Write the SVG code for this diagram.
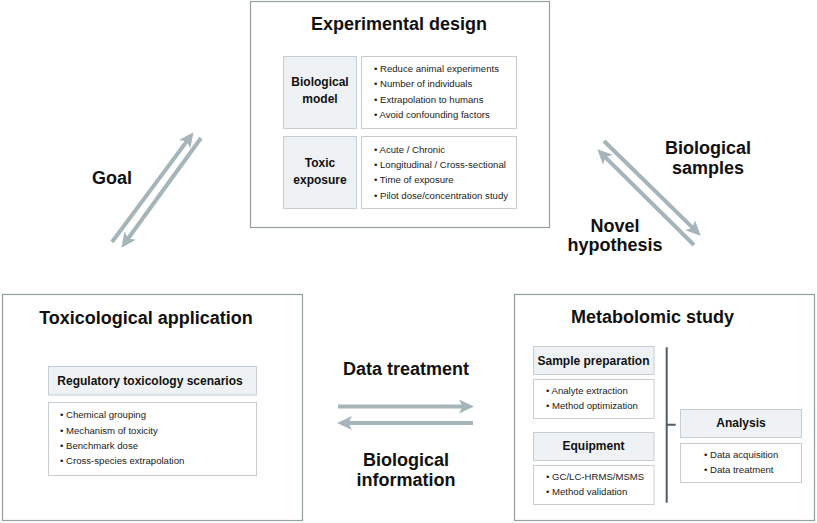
<svg xmlns="http://www.w3.org/2000/svg" width="817" height="523" viewBox="0 0 817 523">
<style>
.outer{fill:#fff;stroke:#959ea3;stroke-width:1.2}
.hdr{fill:#eef2f5;stroke:#c6ced3;stroke-width:1}
.lst{fill:#fff;stroke:#c6ced3;stroke-width:1}
.title{font-family:"Liberation Sans",Arial,sans-serif;font-weight:bold;font-size:18px;fill:#111}
.h{font-family:"Liberation Sans",Arial,sans-serif;font-weight:bold;font-size:12px;fill:#111;text-anchor:middle}
.b{font-family:"Liberation Sans",Arial,sans-serif;font-size:9.6px;fill:#222}
.lbl{font-family:"Liberation Sans",Arial,sans-serif;font-weight:bold;font-size:18px;fill:#111;text-anchor:middle}
.arr{stroke:#a5b5b9;stroke-width:4;fill:none;marker-end:url(#ah)}
</style>
<defs>
<marker id="ah" markerUnits="userSpaceOnUse" markerWidth="16" markerHeight="14" refX="6" refY="7" orient="auto">
<path d="M0,0 L15,7 L0,14 L3.5,7 Z" fill="#a5b5b9"/>
</marker>
</defs>
<rect width="817" height="523" fill="#fff"/>

<g id="experimental-design">
<rect class="outer" x="250.5" y="1.5" width="299" height="226"/>
<text class="title" x="399" y="30" text-anchor="middle">Experimental design</text>
<rect class="hdr" x="283.5" y="56.5" width="73" height="72"/>
<text class="h" x="320" y="86">Biological</text>
<text class="h" x="320" y="103">model</text>
<rect class="lst" x="361.5" y="56.5" width="155" height="72"/>
<text class="b" x="374" y="72">• Reduce animal experiments</text>
<text class="b" x="374" y="87.3">• Number of individuals</text>
<text class="b" x="374" y="102.6">• Extrapolation to humans</text>
<text class="b" x="374" y="118">• Avoid confounding factors</text>
<rect class="hdr" x="283.5" y="136.5" width="73" height="72"/>
<text class="h" x="320" y="167">Toxic</text>
<text class="h" x="320" y="183.5">exposure</text>
<rect class="lst" x="361.5" y="136.5" width="155" height="72"/>
<text class="b" x="374" y="152.7">• Acute / Chronic</text>
<text class="b" x="374" y="168">• Longitudinal / Cross-sectional</text>
<text class="b" x="374" y="183.3">• Time of exposure</text>
<text class="b" x="374" y="198.6">• Pilot dose/concentration study</text>
</g>

<g id="toxicological-application">
<rect class="outer" x="2.5" y="294.5" width="300" height="226"/>
<text class="title" x="146" y="323.5" text-anchor="middle">Toxicological application</text>
<rect class="hdr" x="48.5" y="366.5" width="208" height="28.5"/>
<text class="h" x="150" y="384.5">Regulatory toxicology scenarios</text>
<rect class="lst" x="48.5" y="402.5" width="208" height="73"/>
<text class="b" x="60" y="418.3">• Chemical grouping</text>
<text class="b" x="60" y="433.7">• Mechanism of toxicity</text>
<text class="b" x="60" y="449">• Benchmark dose</text>
<text class="b" x="60" y="464.3">• Cross-species extrapolation</text>
</g>

<g id="metabolomic-study">
<rect class="outer" x="514.5" y="294.5" width="300" height="226"/>
<text class="title" x="652.5" y="323" text-anchor="middle">Metabolomic study</text>
<rect class="hdr" x="533.5" y="346.5" width="120.5" height="28"/>
<text class="h" x="593.5" y="364.5">Sample preparation</text>
<rect class="lst" x="533.5" y="379.5" width="120.5" height="39"/>
<text class="b" x="546" y="394">• Analyte extraction</text>
<text class="b" x="546" y="409.3">• Method optimization</text>
<rect class="hdr" x="533.5" y="432.5" width="120.5" height="28"/>
<text class="h" x="593.5" y="450">Equipment</text>
<rect class="lst" x="533.5" y="465.5" width="120.5" height="39"/>
<text class="b" x="546" y="480">• GC/LC-HRMS/MSMS</text>
<text class="b" x="546" y="495.3">• Method validation</text>
<path d="M666.7,347.3 V502.7 M666.7,424.7 H675.7" stroke="#4f5d68" stroke-width="2" fill="none"/>
<rect class="hdr" x="680.5" y="409.5" width="121" height="28"/>
<text class="h" x="741" y="427">Analysis</text>
<rect class="lst" x="680.5" y="443.5" width="121" height="39"/>
<text class="b" x="704" y="457.7">• Data acquisition</text>
<text class="b" x="704" y="473.3">• Data treatment</text>
</g>

<g id="connectors">
<line class="arr" x1="112" y1="242" x2="188.2" y2="139.4"/>
<line class="arr" x1="201" y1="138" x2="126.7" y2="240.5"/>
<line class="arr" x1="604" y1="141" x2="694.3" y2="229.4"/>
<line class="arr" x1="694" y1="245" x2="603.7" y2="155.6"/>
<line class="arr" x1="338" y1="406.5" x2="465" y2="406.5"/>
<line class="arr" x1="473" y1="423" x2="346" y2="423"/>
</g>

<g id="labels">
<text class="lbl" x="112" y="184">Goal</text>
<text class="lbl" x="708" y="153.5">Biological</text>
<text class="lbl" x="708" y="173.5">samples</text>
<text class="lbl" x="615" y="231.5">Novel</text>
<text class="lbl" x="615" y="251">hypothesis</text>
<text class="lbl" x="406" y="375">Data treatment</text>
<text class="lbl" x="406" y="466">Biological</text>
<text class="lbl" x="406" y="486">information</text>
</g>
</svg>
